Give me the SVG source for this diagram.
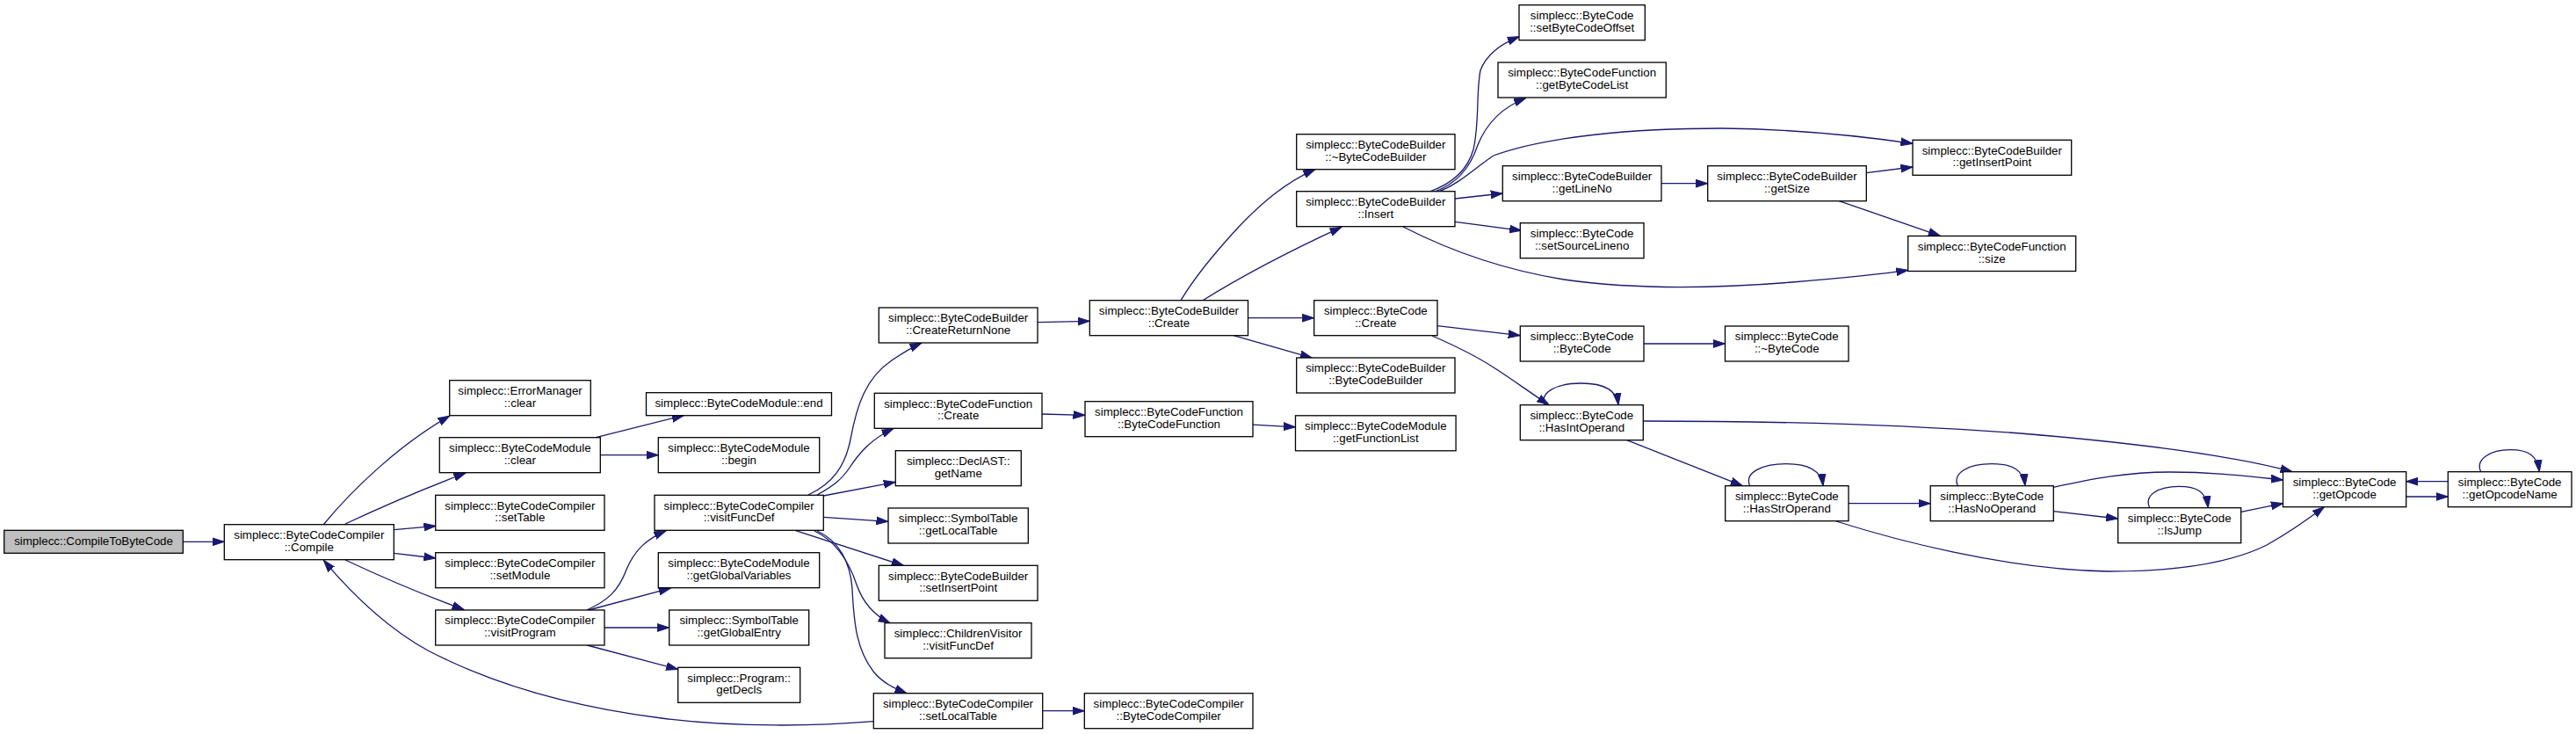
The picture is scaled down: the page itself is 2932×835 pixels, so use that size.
<svg xmlns="http://www.w3.org/2000/svg" width="2932" height="835" viewBox="0 0 2932 835">
<style>
.n rect{fill:#ffffff;stroke:#000000;stroke-width:1.3}
.n.root rect{fill:#bfbfbf}
.n text{font-family:"Liberation Sans",Arial,Helvetica,sans-serif;font-size:13.33px;text-anchor:middle;fill:#000000}
#edges path{fill:none;stroke:#191970;stroke-width:1.3;marker-end:url(#ah)}
</style>
<defs>
<marker id="ah" viewBox="0 0 14 10" refX="13.5" refY="5" markerWidth="14" markerHeight="10" markerUnits="userSpaceOnUse" orient="auto">
<path d="M0,0.6 L13.5,5 L0,9.4 z" fill="#191970" stroke="#191970" stroke-width="1"/>
</marker>
</defs>
<rect width="2932" height="835" fill="#ffffff"/>
<g id="edges">
<path d="M208.3,616.3 L255.3,616.3"/>
<path d="M368,597 C400,558 455,505 512,473"/>
<path d="M393,596 C425,581 480,557 530,538"/>
<path d="M448.3,602.7 L496,598.3"/>
<path d="M448.3,629.3 L496,635"/>
<path d="M393,637 C425,652 480,676 528,693.5"/>
<path d="M678.3,497.7 L778.3,472.6"/>
<path d="M683.3,517.7 L749.3,517.7"/>
<path d="M668,694 C692,683 704,672 713,648 C722,626 736,613 758,603.8"/>
<path d="M670,694 L763.3,669.1"/>
<path d="M688,714 L761.7,714"/>
<path d="M668.3,734 L771.7,761.5"/>
<path d="M920,563 C948,550 962,530 968,500 C975,462 985,430 1015,410 C1027,402 1038,395 1049,390.2"/>
<path d="M930,563 C950,552 958,545 967,532 C978,515 992,499 1017,487.5"/>
<path d="M937.3,564 L1019.3,548.3"/>
<path d="M937.3,588.3 L1011,593.3"/>
<path d="M905,603.3 L1028.3,643.3"/>
<path d="M927,604 C950,615 965,635 975,665 C982,685 995,700 1013,708.7"/>
<path d="M930,604 C955,615 968,640 970,670 C972,710 975,740 995,765 C1005,777 1018,783 1032,788.7"/>
<path d="M994.3,820.7 C930,826 840,828 753,817 C650,804 560,778 487,740 C440,714 400,675 368.3,637.3"/>
<path d="M1186.7,808.7 L1234.3,808.7"/>
<path d="M1181,366.7 L1240.3,365.3"/>
<path d="M1186,471 L1235,472.3"/>
<path d="M1426,483.2 L1474.5,485.8"/>
<path d="M1344,341.7 C1360,315 1385,285 1410,258 C1435,232 1462,208 1497,192.7"/>
<path d="M1369,341.7 C1420,310 1480,280 1527,258.3"/>
<path d="M1420.5,361.7 L1495.7,361.7"/>
<path d="M1404,381.7 L1493.3,407.1"/>
<path d="M1627,218 C1650,210 1670,195 1677,170 C1684,140 1680,105 1685,80 C1692,62 1708,50 1729.3,41.7"/>
<path d="M1633,218 C1655,210 1672,195 1682,165 C1692,140 1710,122 1736.7,111.5"/>
<path d="M1637,218 C1660,210 1680,190 1700,177 C1760,155 1860,146 1960,146 C2050,147 2120,155 2177,163.3"/>
<path d="M1656,226 L1710.3,220"/>
<path d="M1656,252.3 L1731.7,262.3"/>
<path d="M1597,258 C1640,280 1700,305 1780,318 C1850,328 1930,330 2040,321 C2100,316 2140,312 2171.7,307.3"/>
<path d="M1891,208.7 L1943.7,208.7"/>
<path d="M2124.3,196.7 L2177,190"/>
<path d="M2093.3,228.7 L2208.3,268.3"/>
<path d="M1636,370.7 L1730.3,381.7"/>
<path d="M1630,382 C1660,395 1680,405 1700,418 C1722,432 1742,447 1763,460.5"/>
<path d="M1871,391 L1963.5,391"/>
<path d="M1758,461 C1752,446 1772,436 1800,436 C1824,436 1840,443 1842,460.7"/>
<path d="M1870.3,479 C1980,479 2150,482 2300,493 C2420,503 2540,518 2609,536.7"/>
<path d="M1851.7,500.7 L1983.3,552.6"/>
<path d="M1991.7,552.7 C1985,538 2005,527.7 2033,527.7 C2057,527.7 2073,534 2075,552.7"/>
<path d="M2104,572.7 L2197.2,572.7"/>
<path d="M2090,593 C2150,612 2280,648 2400,650 C2480,650 2540,640 2580,620 C2605,606 2625,592 2645.3,576.7"/>
<path d="M2228.3,552.7 C2222,538 2240,527.7 2267,527.7 C2290,527.7 2303,534 2305,552.7"/>
<path d="M2337.3,554.3 C2380,545 2420,537 2470,537 C2520,537 2560,542 2598.5,546"/>
<path d="M2337.3,581.7 L2410.7,590"/>
<path d="M2446.7,577.7 C2440,563 2457,553.3 2480,553.3 C2500,553.3 2511,559 2513.3,577.7"/>
<path d="M2550.7,582.3 L2598.5,572.7"/>
<path d="M2738.7,565 L2786.3,565"/>
<path d="M2786.3,547.7 L2738.7,547.7"/>
<path d="M2823.7,536.7 C2817,522 2835,511.7 2857,511.7 C2878,511.7 2888,518 2890.3,536.7"/>
</g>
<g id="n_CompileToByteCode" class="n root"><rect x="4.7" y="603.3" width="203.6" height="26"/><text x="106.5" y="619.8">simplecc::CompileToByteCode</text></g>
<g id="n_Compile" class="n"><rect x="255.3" y="596.7" width="193" height="40"/><text x="351.8" y="613">simplecc::ByteCodeCompiler</text><text x="351.8" y="626.7">::Compile</text></g>
<g id="n_ErrorManager_clear" class="n"><rect x="511.7" y="432.7" width="160.6" height="40"/><text x="592" y="449">simplecc::ErrorManager</text><text x="592" y="462.7">::clear</text></g>
<g id="n_BCM_clear" class="n"><rect x="500.3" y="497.7" width="183" height="40"/><text x="591.8" y="514">simplecc::ByteCodeModule</text><text x="591.8" y="527.7">::clear</text></g>
<g id="n_setTable" class="n"><rect x="495.7" y="563.3" width="192.3" height="40"/><text x="591.85" y="579.6">simplecc::ByteCodeCompiler</text><text x="591.85" y="593.3">::setTable</text></g>
<g id="n_setModule" class="n"><rect x="495.7" y="628.7" width="192.3" height="40"/><text x="591.85" y="645">simplecc::ByteCodeCompiler</text><text x="591.85" y="658.7">::setModule</text></g>
<g id="n_visitProgram" class="n"><rect x="495.7" y="694" width="192.3" height="40"/><text x="591.85" y="710.3">simplecc::ByteCodeCompiler</text><text x="591.85" y="724">::visitProgram</text></g>
<g id="n_BCM_end" class="n"><rect x="735.5" y="446.7" width="211" height="26"/><text x="841" y="463.2">simplecc::ByteCodeModule::end</text></g>
<g id="n_BCM_begin" class="n"><rect x="749.3" y="497.7" width="183.4" height="40"/><text x="841" y="514">simplecc::ByteCodeModule</text><text x="841" y="527.7">::begin</text></g>
<g id="n_visitFuncDef" class="n"><rect x="745" y="563.3" width="192.3" height="40"/><text x="841.15" y="579.6">simplecc::ByteCodeCompiler</text><text x="841.15" y="593.3">::visitFuncDef</text></g>
<g id="n_getGlobalVariables" class="n"><rect x="749.3" y="628.7" width="183.4" height="40"/><text x="841" y="645">simplecc::ByteCodeModule</text><text x="841" y="658.7">::getGlobalVariables</text></g>
<g id="n_getGlobalEntry" class="n"><rect x="761.7" y="694" width="159" height="40"/><text x="841.2" y="710.3">simplecc::SymbolTable</text><text x="841.2" y="724">::getGlobalEntry</text></g>
<g id="n_getDecls" class="n"><rect x="771.7" y="759.3" width="139" height="40"/><text x="841.2" y="775.6">simplecc::Program::</text><text x="841.2" y="789.3">getDecls</text></g>
<g id="n_CreateReturnNone" class="n"><rect x="1000.3" y="350" width="180.7" height="40"/><text x="1090.65" y="366.3">simplecc::ByteCodeBuilder</text><text x="1090.65" y="380">::CreateReturnNone</text></g>
<g id="n_BCF_Create" class="n"><rect x="995.3" y="447.3" width="190.7" height="40"/><text x="1090.65" y="463.6">simplecc::ByteCodeFunction</text><text x="1090.65" y="477.3">::Create</text></g>
<g id="n_getName" class="n"><rect x="1019.3" y="512.7" width="143" height="40"/><text x="1090.8" y="529">simplecc::DeclAST::</text><text x="1090.8" y="542.7">getName</text></g>
<g id="n_getLocalTable" class="n"><rect x="1011" y="578" width="159.3" height="40"/><text x="1090.65" y="594.3">simplecc::SymbolTable</text><text x="1090.65" y="608">::getLocalTable</text></g>
<g id="n_setInsertPoint" class="n"><rect x="1000.3" y="643.3" width="180.7" height="40"/><text x="1090.65" y="659.6">simplecc::ByteCodeBuilder</text><text x="1090.65" y="673.3">::setInsertPoint</text></g>
<g id="n_CV_visitFuncDef" class="n"><rect x="1007" y="708.7" width="167" height="40"/><text x="1090.5" y="725">simplecc::ChildrenVisitor</text><text x="1090.5" y="738.7">::visitFuncDef</text></g>
<g id="n_setLocalTable" class="n"><rect x="994.3" y="788.7" width="192.4" height="40"/><text x="1090.5" y="805">simplecc::ByteCodeCompiler</text><text x="1090.5" y="818.7">::setLocalTable</text></g>
<g id="n_BCB_Create" class="n"><rect x="1240.3" y="341.7" width="180.2" height="40"/><text x="1330.4" y="358">simplecc::ByteCodeBuilder</text><text x="1330.4" y="371.7">::Create</text></g>
<g id="n_BCF_BCF" class="n"><rect x="1235" y="456.7" width="191" height="40"/><text x="1330.5" y="473">simplecc::ByteCodeFunction</text><text x="1330.5" y="486.7">::ByteCodeFunction</text></g>
<g id="n_BCC_BCC" class="n"><rect x="1234.3" y="788.7" width="191.7" height="40"/><text x="1330.15" y="805">simplecc::ByteCodeCompiler</text><text x="1330.15" y="818.7">::ByteCodeCompiler</text></g>
<g id="n_getFunctionList" class="n"><rect x="1474.5" y="472.8" width="182.6" height="40"/><text x="1565.8" y="489.1">simplecc::ByteCodeModule</text><text x="1565.8" y="502.8">::getFunctionList</text></g>
<g id="n_dtorBCB" class="n"><rect x="1475.7" y="152.7" width="180.3" height="40"/><text x="1565.85" y="169">simplecc::ByteCodeBuilder</text><text x="1565.85" y="182.7">::~ByteCodeBuilder</text></g>
<g id="n_Insert" class="n"><rect x="1475.7" y="217.7" width="180.3" height="40"/><text x="1565.85" y="234">simplecc::ByteCodeBuilder</text><text x="1565.85" y="247.7">::Insert</text></g>
<g id="n_BC_Create" class="n"><rect x="1495.7" y="341.7" width="140.3" height="40"/><text x="1565.85" y="358">simplecc::ByteCode</text><text x="1565.85" y="371.7">::Create</text></g>
<g id="n_BCB_BCB" class="n"><rect x="1475.7" y="407" width="180.3" height="40"/><text x="1565.85" y="423.3">simplecc::ByteCodeBuilder</text><text x="1565.85" y="437">::ByteCodeBuilder</text></g>
<g id="n_setByteCodeOffset" class="n"><rect x="1729" y="5.7" width="143.3" height="40"/><text x="1800.65" y="22">simplecc::ByteCode</text><text x="1800.65" y="35.7">::setByteCodeOffset</text></g>
<g id="n_getByteCodeList" class="n"><rect x="1705" y="71" width="191.3" height="40"/><text x="1800.65" y="87.3">simplecc::ByteCodeFunction</text><text x="1800.65" y="101">::getByteCodeList</text></g>
<g id="n_getLineNo" class="n"><rect x="1710.3" y="188.7" width="180.7" height="40"/><text x="1800.65" y="205">simplecc::ByteCodeBuilder</text><text x="1800.65" y="218.7">::getLineNo</text></g>
<g id="n_setSourceLineno" class="n"><rect x="1730.3" y="253.7" width="140.7" height="40"/><text x="1800.65" y="270">simplecc::ByteCode</text><text x="1800.65" y="283.7">::setSourceLineno</text></g>
<g id="n_BC_BC" class="n"><rect x="1730.3" y="371" width="140.7" height="40"/><text x="1800.65" y="387.3">simplecc::ByteCode</text><text x="1800.65" y="401">::ByteCode</text></g>
<g id="n_HasIntOperand" class="n"><rect x="1730.3" y="460.7" width="140" height="40"/><text x="1800.3" y="477">simplecc::ByteCode</text><text x="1800.3" y="490.7">::HasIntOperand</text></g>
<g id="n_getSize" class="n"><rect x="1943.7" y="188.7" width="180.6" height="40"/><text x="2034" y="205">simplecc::ByteCodeBuilder</text><text x="2034" y="218.7">::getSize</text></g>
<g id="n_dtorBC" class="n"><rect x="1963.5" y="371" width="140.5" height="40"/><text x="2033.75" y="387.3">simplecc::ByteCode</text><text x="2033.75" y="401">::~ByteCode</text></g>
<g id="n_HasStrOperand" class="n"><rect x="1963.7" y="552.7" width="140.3" height="40"/><text x="2033.85" y="569">simplecc::ByteCode</text><text x="2033.85" y="582.7">::HasStrOperand</text></g>
<g id="n_getInsertPoint" class="n"><rect x="2177" y="159.3" width="180.7" height="40"/><text x="2267.35" y="175.6">simplecc::ByteCodeBuilder</text><text x="2267.35" y="189.3">::getInsertPoint</text></g>
<g id="n_size" class="n"><rect x="2171.7" y="268.5" width="191" height="40"/><text x="2267.2" y="284.8">simplecc::ByteCodeFunction</text><text x="2267.2" y="298.5">::size</text></g>
<g id="n_HasNoOperand" class="n"><rect x="2197.2" y="552.7" width="140.1" height="40"/><text x="2267.25" y="569">simplecc::ByteCode</text><text x="2267.25" y="582.7">::HasNoOperand</text></g>
<g id="n_IsJump" class="n"><rect x="2410.7" y="577.7" width="140" height="40"/><text x="2480.7" y="594">simplecc::ByteCode</text><text x="2480.7" y="607.7">::IsJump</text></g>
<g id="n_getOpcode" class="n"><rect x="2598.5" y="536.7" width="140.2" height="40"/><text x="2668.6" y="553">simplecc::ByteCode</text><text x="2668.6" y="566.7">::getOpcode</text></g>
<g id="n_getOpcodeName" class="n"><rect x="2786.3" y="536.7" width="140.7" height="40"/><text x="2856.65" y="553">simplecc::ByteCode</text><text x="2856.65" y="566.7">::getOpcodeName</text></g>
</svg>
